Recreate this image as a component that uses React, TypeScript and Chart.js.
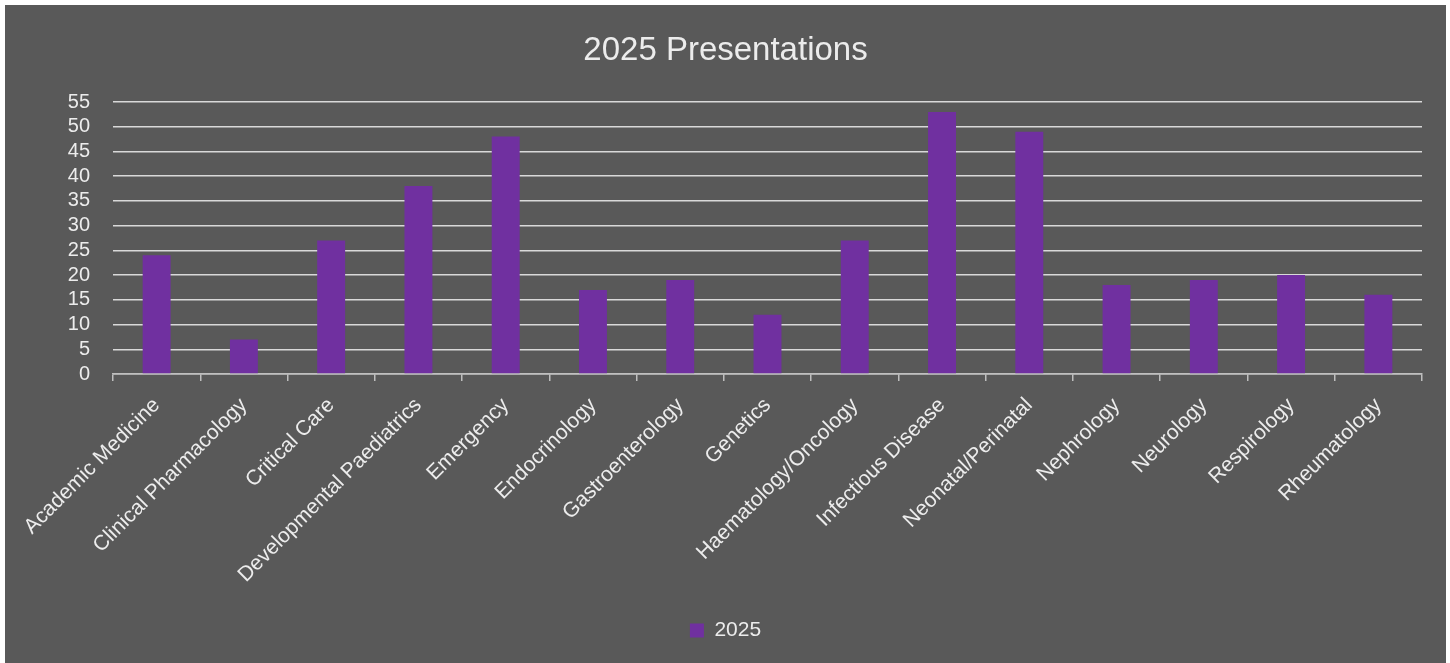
import React, { useEffect, useRef } from "react";
import { Chart, registerables } from "chart.js";

Chart.register(...registerables);

const categories: string[] = [
  "Academic Medicine",
  "Clinical Pharmacology",
  "Critical Care",
  "Developmental Paediatrics",
  "Emergency",
  "Endocrinology",
  "Gastroenterology",
  "Genetics",
  "Haematology/Oncology",
  "Infectious Disease",
  "Neonatal/Perinatal",
  "Nephrology",
  "Neurology",
  "Respirology",
  "Rheumatology",
];

const seriesLabel = "2025";
const values2025: number[] = [24, 7, 27, 38, 48, 17, 19, 12, 27, 53, 49, 18, 19, 20, 16];

const chartTitle = "2025 Presentations";
const yMin = 0;
const yMax = 55;
const yStep = 5;

const FONT = "'Liberation Sans', Arial, sans-serif";
const TEXT = "#ececec";
const GRID = "#d9d9d9";
const BAR = "#7030A0";

export default function App() {
  const ref = useRef<HTMLCanvasElement | null>(null);

  useEffect(() => {
    if (!ref.current) return;
    const chart = new Chart(ref.current, {
      type: "bar",
      data: {
        labels: categories,
        datasets: [
          {
            label: seriesLabel,
            data: values2025,
            backgroundColor: BAR,
            borderWidth: 0,
            categoryPercentage: 1,
            barPercentage: 0.32,
          },
        ],
      },
      options: {
        animation: false,
        responsive: false,
        maintainAspectRatio: false,
        layout: { padding: { left: 0, right: 0, top: 0, bottom: 12 } },
        plugins: {
          title: {
            display: true,
            text: chartTitle,
            color: TEXT,
            font: { family: FONT, size: 33, weight: "normal" },
            padding: { top: 26, bottom: 31.4 },
          },
          legend: {
            display: true,
            position: "bottom",
            labels: {
              color: TEXT,
              font: { family: FONT, size: 21 },
              boxWidth: 14,
              boxHeight: 14,
              padding: 10,
            },
          },
          tooltip: { enabled: false },
        },
        scales: {
          x: {
            grid: {
              display: true,
              drawOnChartArea: false,
              drawTicks: true,
              tickLength: 7,
              color: "#bfbfbf",
              lineWidth: 1.5,
              offset: true,
            },
            border: { display: true, color: "#bfbfbf", width: 1.5 },
            ticks: {
              color: TEXT,
              font: { family: FONT, size: 21 },
              minRotation: 45,
              maxRotation: 45,
              autoSkip: false,
              padding: 12,
            },
            afterFit: (scale: any) => {
              scale.height = 236;
            },
          },
          y: {
            min: yMin,
            max: yMax,
            grid: {
              display: true,
              drawTicks: false,
              color: GRID,
              lineWidth: 1.5,
            },
            border: { display: false },
            ticks: {
              stepSize: yStep,
              autoSkip: false,
              color: TEXT,
              font: { family: FONT, size: 20 },
              padding: 23,
            },
            afterFit: (scale: any) => {
              scale.width = 108;
            },
          },
          yRight: {
            position: "right",
            display: true,
            min: yMin,
            max: yMax,
            grid: { display: false, drawTicks: false },
            border: { display: false },
            ticks: { display: false },
            afterFit: (scale: any) => {
              scale.width = 24;
            },
          },
        },
      },
    });
    return () => chart.destroy();
  }, []);

  return (
    <div
      style={{
        position: "fixed",
        left: 5,
        top: 5,
        width: 1441,
        height: 658,
        background: "#595959",
      }}
    >
      <canvas ref={ref} width={1441} height={658} style={{ display: "block" }} />
    </div>
  );
}
